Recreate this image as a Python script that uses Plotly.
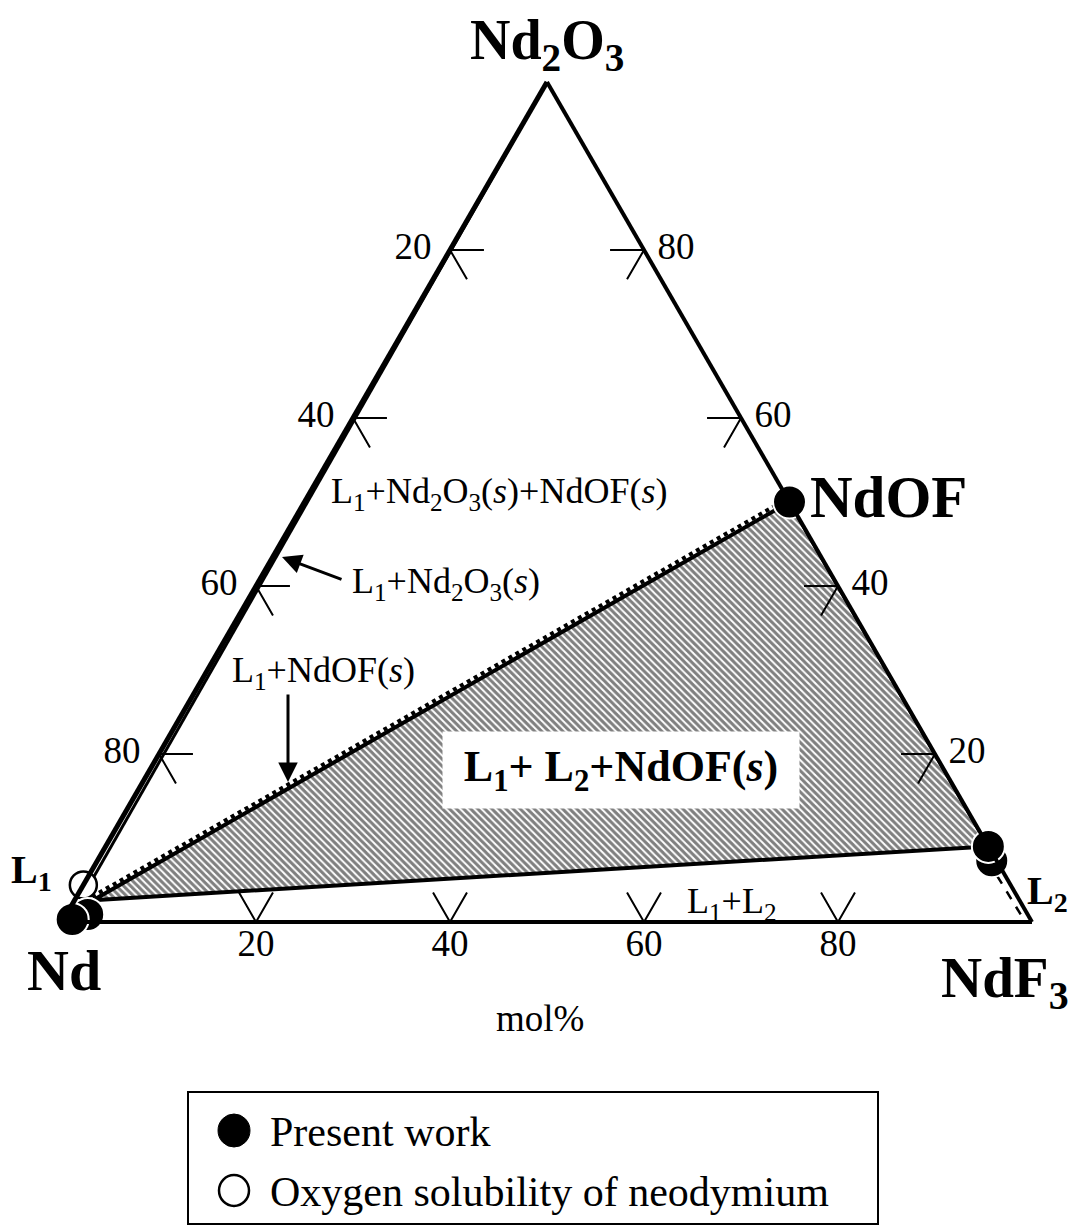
import math
import plotly.graph_objects as go

W, H = 1071, 1227
FONT = "Liberation Serif"

# ---------------- data (mol%: a = Nd2O3, b = Nd, c = NdF3) ----------------
tick_values = [20, 40, 60, 80]
left_tick_labels = ["20", "40", "60", "80"]      # Nd content along Nd-Nd2O3 edge
right_tick_labels = ["80", "60", "40", "20"]     # Nd2O3 content along Nd2O3-NdF3 edge
bottom_tick_labels = ["20", "40", "60", "80"]    # NdF3 content along Nd-NdF3 edge

# three-phase triangle L1 + L2 + NdOF(s)
shaded_a = [2.6, 50.0, 9.0, 2.6]
shaded_b = [95.5, 0.0, 0.0, 95.5]
shaded_c = [1.9, 50.0, 91.0, 1.9]

# L1 + NdOF(s) boundary (thin two-phase band above the triangle)
l1_ndof_a = [3.0, 50.4]
l1_ndof_b = [95.4, 0.0]
l1_ndof_c = [1.6, 49.6]

# L1 + Nd2O3(s) boundary (line from L1 to Nd2O3)
l1_nd2o3_a = [4.4, 100.0]
l1_nd2o3_b = [95.0, 0.0]
l1_nd2o3_c = [0.6, 0.0]

# L2 + NdF3 boundary (dashed)
l2_ndf3_a = [7.3, 0.4]
l2_ndf3_b = [0.9, 0.7]
l2_ndf3_c = [91.8, 98.9]

# Present work (filled circles)
present_a = [7.3, 9.0, 0.9, 0.3, 50.0]
present_b = [0.5, 0.0, 96.9, 98.8, 0.0]
present_c = [92.2, 91.0, 2.2, 0.9, 50.0]

# Oxygen solubility of neodymium (open circle)
oxsol_a = [4.4]
oxsol_b = [95.6]
oxsol_c = [0.0]

TICK_LEN = 3.5
SQ3 = math.sqrt(3) / 2

# ternary frame geometry (pixels)
X_LEFT, X_RIGHT, Y_BASE = 62, 1032, 922
Y_TOP = Y_BASE - (X_RIGHT - X_LEFT) * SQ3


def px(x):
    return x / W


def py(y):
    return 1 - y / H


dom_x = [px(X_LEFT), px(X_RIGHT)]
dom_y = [py(Y_BASE), py(Y_TOP)]

fig = go.Figure()

# hatched fill of the three-phase region (cartesian overlay aligned to the ternary frame)
fig.add_trace(go.Scatter(
    x=[c + a / 2 for a, c in zip(shaded_a, shaded_c)],
    y=[a * SQ3 for a in shaded_a],
    mode="lines", fill="toself", fillcolor="white",
    fillpattern=dict(shape="\\", size=5, solidity=0.6, fgcolor="black", bgcolor="white"),
    line=dict(width=0, color="rgba(0,0,0,0)"), hoverinfo="skip", showlegend=False))

# outline of the three-phase region
fig.add_trace(go.Scatterternary(
    a=shaded_a, b=shaded_b, c=shaded_c, mode="lines",
    line=dict(color="black", width=4), hoverinfo="skip", showlegend=False, cliponaxis=False))

# boundary lines
fig.add_trace(go.Scatterternary(
    a=l1_ndof_a, b=l1_ndof_b, c=l1_ndof_c, mode="lines",
    line=dict(color="black", width=4, dash="dot"), hoverinfo="skip", showlegend=False))
fig.add_trace(go.Scatterternary(
    a=l1_nd2o3_a, b=l1_nd2o3_b, c=l1_nd2o3_c, mode="lines",
    line=dict(color="black", width=3), hoverinfo="skip", showlegend=False))
fig.add_trace(go.Scatterternary(
    a=l2_ndf3_a, b=l2_ndf3_b, c=l2_ndf3_c, mode="lines",
    line=dict(color="black", width=2.5, dash="dash"), hoverinfo="skip", showlegend=False))

# tick marks
ta, tb, tc = [], [], []
for t in tick_values:
    # left edge (b = t)
    ta += [100 - t, 100 - t, 100 - t - TICK_LEN, None]
    tb += [t - TICK_LEN, t, t, None]
    tc += [TICK_LEN, 0, TICK_LEN, None]
    # right edge (a = t)
    ta += [t, t, t - TICK_LEN, None]
    tb += [TICK_LEN, 0, TICK_LEN, None]
    tc += [100 - t - TICK_LEN, 100 - t, 100 - t, None]
    # bottom edge (c = t)
    ta += [TICK_LEN, 0, TICK_LEN, None]
    tb += [100 - t, 100 - t, 100 - t - TICK_LEN, None]
    tc += [t - TICK_LEN, t, t, None]
fig.add_trace(go.Scatterternary(
    a=ta, b=tb, c=tc, mode="lines", line=dict(color="black", width=2),
    hoverinfo="skip", showlegend=False, connectgaps=False))

# tick labels
tfont = dict(family=FONT, size=37, color="black")
fig.add_trace(go.Scatterternary(
    a=[100 - t for t in tick_values], b=tick_values, c=[0] * 4,
    mode="markers+text", text=left_tick_labels, textposition="middle left",
    marker=dict(size=28, color="rgba(0,0,0,0)"), textfont=tfont,
    hoverinfo="skip", showlegend=False, cliponaxis=False))
fig.add_trace(go.Scatterternary(
    a=tick_values[::-1], b=[0] * 4, c=[100 - t for t in tick_values[::-1]],
    mode="markers+text", text=right_tick_labels, textposition="middle right",
    marker=dict(size=20, color="rgba(0,0,0,0)"), textfont=tfont,
    hoverinfo="skip", showlegend=False, cliponaxis=False))
fig.add_trace(go.Scatterternary(
    a=[0] * 4, b=[100 - t for t in tick_values], c=tick_values,
    mode="markers+text", text=bottom_tick_labels, textposition="bottom center",
    marker=dict(size=8, color="rgba(0,0,0,0)"), textfont=tfont,
    hoverinfo="skip", showlegend=False, cliponaxis=False))

# data points
fig.add_trace(go.Scatterternary(
    a=oxsol_a, b=oxsol_b, c=oxsol_c, mode="markers", name="Oxygen solubility of neodymium",
    marker=dict(size=27, color="white", line=dict(color="black", width=2.5)),
    showlegend=False, cliponaxis=False))
fig.add_trace(go.Scatterternary(
    a=present_a, b=present_b, c=present_c, mode="markers", name="Present work",
    marker=dict(size=33, color="black", line=dict(color="white", width=2)),
    showlegend=False, cliponaxis=False))

ann = []


def text(x, y, s, size, bold=False, xanchor="center", **kw):
    ann.append(dict(x=px(x), y=py(y), xref="paper", yref="paper", text=(f"<b>{s}</b>" if bold else s),
                    showarrow=False, xanchor=xanchor, yanchor="middle",
                    font=dict(family=FONT, size=size, color="black"), **kw))


text(547, 44, "Nd<sub>2</sub>O<sub>3</sub>", 56, bold=True)
text(808, 497, "NdOF", 59, bold=True, xanchor="left")
text(64, 970, "Nd", 58, bold=True)
text(1005, 982, "NdF<sub>3</sub>", 57, bold=True)
text(540, 1018, "mol%", 37)
text(31, 872, "L<sub>1</sub>", 40, bold=True)
text(1047, 893, "L<sub>2</sub>", 40, bold=True)

text(499, 494, "L<sub>1</sub>+Nd<sub>2</sub>O<sub>3</sub>(<i>s</i>)+NdOF(<i>s</i>)", 36)
text(350, 583, "L<sub>1</sub>+Nd<sub>2</sub>O<sub>3</sub>(<i>s</i>)", 36, xanchor="left")
text(323, 672, "L<sub>1</sub>+NdOF(<i>s</i>)", 36)
text(731, 903, "L<sub>1</sub>+L<sub>2</sub>", 36)
text(621, 770, "L<sub>1</sub>+ L<sub>2</sub>+NdOF(<i>s</i>)", 44, bold=True,
     bgcolor="white", borderpad=10, width=336, height=56)

# arrows
ann.append(dict(x=px(282), y=py(557), xref="paper", yref="paper", ax=61, ay=23,
                axref="pixel", ayref="pixel", text="", showarrow=True,
                arrowhead=2, arrowsize=1.3, arrowwidth=3, arrowcolor="black"))
ann.append(dict(x=px(288), y=py(782), xref="paper", yref="paper", ax=0, ay=-89,
                axref="pixel", ayref="pixel", text="", showarrow=True,
                arrowhead=2, arrowsize=1.3, arrowwidth=3, arrowcolor="black"))

# legend (drawn box)
text(268, 1132, "Present work", 42, xanchor="left")
text(268, 1192, "Oxygen solubility of neodymium", 42, xanchor="left")
shapes = [
    dict(type="rect", xref="paper", yref="paper", x0=px(188), x1=px(878), y0=py(1092), y1=py(1224),
         line=dict(color="black", width=2), fillcolor="rgba(0,0,0,0)"),
    dict(type="circle", xref="paper", yref="paper", x0=px(218), x1=px(250), y0=py(1114), y1=py(1147),
         line=dict(color="black", width=1), fillcolor="black"),
    dict(type="circle", xref="paper", yref="paper", x0=px(219), x1=px(249), y0=py(1175), y1=py(1206),
         line=dict(color="black", width=2.5), fillcolor="white"),
]


def ax_style(width):
    return dict(showticklabels=False, ticks="", showgrid=False, linewidth=width, linecolor="black",
                tickmode="array", tickvals=[], title=dict(text=""), min=0)


fig.update_layout(
    width=W, height=H, margin=dict(l=0, r=0, t=0, b=0),
    paper_bgcolor="white", plot_bgcolor="rgba(0,0,0,0)", showlegend=False,
    xaxis=dict(domain=dom_x, range=[0, 100], visible=False, fixedrange=True),
    yaxis=dict(domain=dom_y, range=[0, 100 * SQ3], visible=False, fixedrange=True),
    ternary=dict(sum=100, bgcolor="rgba(0,0,0,0)",
                 domain=dict(x=dom_x, y=dom_y),
                 aaxis=ax_style(5), baxis=ax_style(4), caxis=ax_style(4)),
    annotations=ann, shapes=shapes,
    font=dict(family=FONT, color="black"),
)

fig.write_html("out.html")
